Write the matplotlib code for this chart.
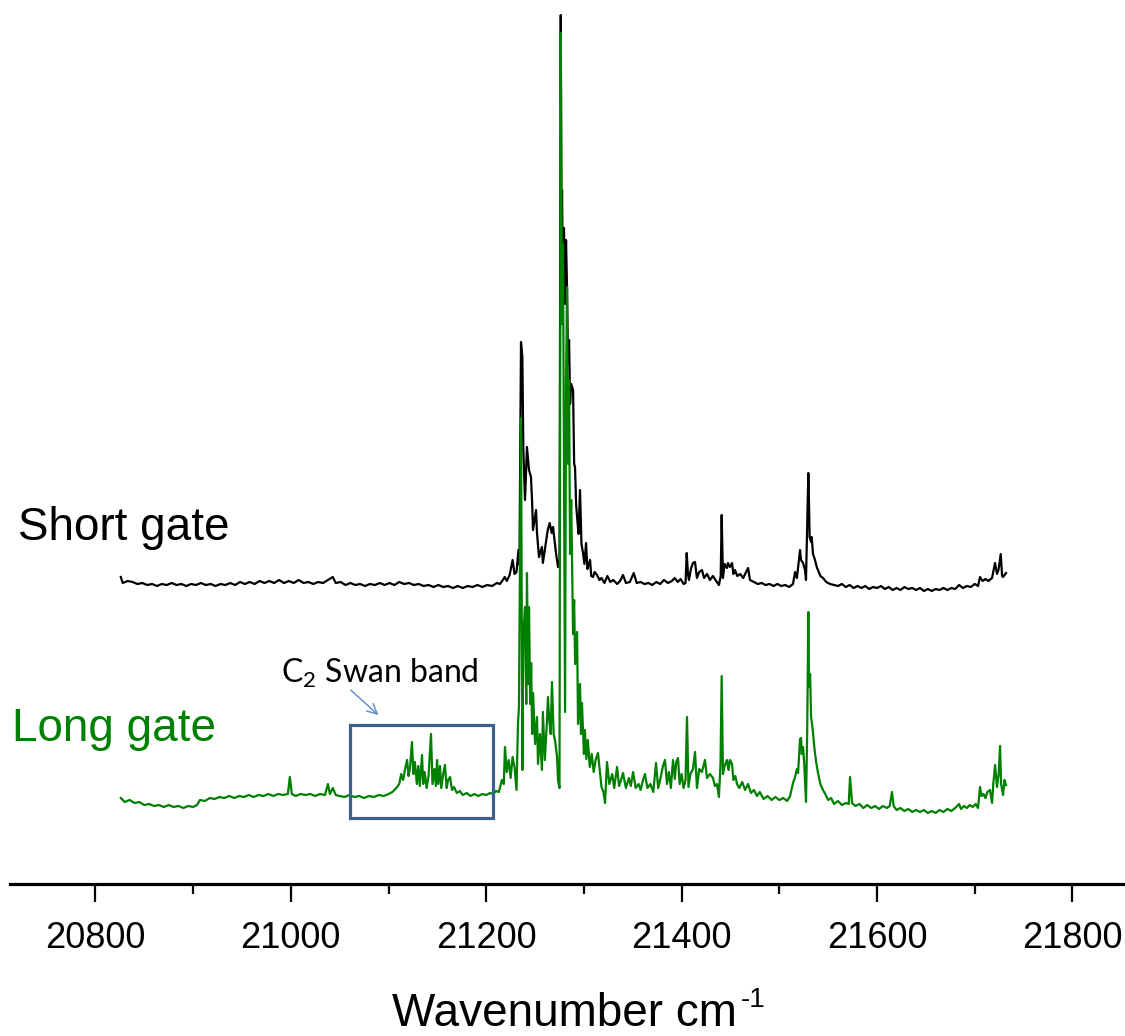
import numpy as np
import matplotlib
matplotlib.use("Agg")
import matplotlib.pyplot as plt
from matplotlib.patches import Rectangle
from matplotlib.ticker import MultipleLocator

plt.rcParams['font.family'] = ['Liberation Sans', 'DejaVu Sans']
plt.rcParams['mathtext.fontset'] = 'custom'
plt.rcParams['mathtext.rm'] = 'Lato'

# Short gate spectrum (a.u., stacked above the long gate trace)
short_wn = [
    20826, 20828, 20833, 20838, 20843, 20848, 20853, 20858, 20863, 20868,
    20873, 20878, 20883, 20888, 20893, 20898, 20903, 20908, 20913, 20918,
    20923, 20928, 20933, 20938, 20943, 20948, 20953, 20958, 20963, 20968,
    20973, 20978, 20983, 20988, 20993, 20998, 21003, 21008, 21013, 21018,
    21023, 21028, 21033, 21038, 21043, 21046, 21051, 21056, 21061, 21066,
    21071, 21076, 21081, 21086, 21091, 21096, 21101, 21106, 21111, 21116,
    21121, 21126, 21131, 21136, 21141, 21146, 21151, 21156, 21161, 21166,
    21171, 21176, 21181, 21186, 21191, 21196, 21201, 21206, 21211, 21214,
    21217, 21219, 21221, 21224, 21227, 21229, 21231, 21233, 21234, 21235.6,
    21237, 21238, 21239.7, 21241.7, 21243.8, 21245.8, 21246.9, 21247.9, 21251, 21252,
    21254, 21257, 21258, 21261, 21263, 21265, 21267, 21268.4, 21271.4, 21273.5,
    21275, 21276.3, 21277.0, 21277.6, 21278.6, 21279.6, 21280.7, 21281.7, 21282.7, 21283.8,
    21284.8, 21285.8, 21287, 21288.9, 21290, 21290.9, 21292, 21293, 21294.5, 21296,
    21297.5, 21299.1, 21300.5, 21302.2, 21303.5, 21304.2, 21306.3, 21307.5, 21309.3, 21311,
    21313.4, 21316, 21318, 21321, 21324, 21327, 21330, 21334, 21337, 21340,
    21343, 21347, 21351, 21354, 21358, 21362, 21366, 21370, 21374, 21378,
    21382, 21386, 21390, 21393, 21396, 21399, 21402, 21404, 21405.2, 21406.5,
    21407.5, 21409.5, 21411.6, 21413.7, 21415.7, 21418, 21420.8, 21423, 21426, 21429,
    21432, 21436, 21438.2, 21440, 21441.0, 21442.3, 21444, 21446.4, 21447.5, 21449.5,
    21451.6, 21453, 21454.6, 21457, 21460, 21463, 21466.9, 21468, 21470, 21474,
    21478, 21482, 21486, 21490, 21494, 21498, 21502, 21506, 21510, 21514,
    21516.1, 21518, 21521.2, 21522.2, 21524.3, 21526.3, 21527.3, 21529.7, 21530.4, 21531,
    21532.5, 21533.1, 21534.5, 21536.5, 21538.6, 21539.6, 21542, 21544.7, 21548, 21552,
    21556, 21560, 21564, 21568, 21572, 21576, 21580, 21584, 21588, 21592,
    21596, 21600, 21604, 21608, 21612, 21616, 21620, 21624, 21628, 21632,
    21636, 21640, 21644, 21648, 21652, 21656, 21660, 21664, 21668, 21672,
    21676, 21680, 21684, 21688, 21692, 21696, 21700, 21703.4, 21705.4, 21708,
    21711, 21714, 21717.7, 21720.8, 21722.8, 21724.5, 21726.6, 21728, 21729, 21732,
]
short_int = [
    87, 81, 83, 82, 80, 81, 79, 80, 78, 80,
    79, 81, 79, 80, 78, 80, 79, 81, 79, 80,
    78, 80, 79, 81, 79, 82, 80, 82, 80, 83,
    81, 83, 81, 84, 81, 83, 81, 84, 81, 82,
    80, 82, 81, 84, 87, 81, 82, 79, 81, 79,
    80, 78, 80, 79, 81, 79, 81, 79, 82, 80,
    81, 79, 80, 78, 79, 77, 79, 77, 78, 76,
    78, 76, 78, 77, 79, 77, 79, 78, 81, 80,
    84, 87, 83, 89, 104, 90, 92, 114, 99, 322,
    307, 214, 164, 217, 194, 187, 164, 134, 154, 131,
    107, 117, 101, 121, 134, 141, 131, 137, 111, 97,
    104, 649, 430, 474, 380, 436, 360, 424, 377, 300,
    324, 260, 280, 274, 200, 197, 160, 147, 130, 174,
    120, 111, 100, 121, 95, 97, 104, 88, 87, 92,
    89, 84, 86, 81, 88, 82, 84, 80, 83, 89,
    81, 82, 91, 81, 82, 80, 81, 79, 82, 80,
    84, 81, 83, 86, 82, 85, 80, 81, 111, 90,
    84, 95, 101, 102, 86, 92, 94, 86, 90, 84,
    88, 82, 79, 88, 149, 86, 100, 96, 101, 97,
    101, 90, 94, 88, 90, 86, 94, 96, 84, 82,
    80, 81, 79, 80, 78, 80, 78, 79, 77, 80,
    92, 86, 114, 104, 101, 94, 84, 191, 160, 127,
    122, 127, 110, 104, 96, 94, 88, 86, 82, 80,
    79, 78, 80, 77, 79, 76, 78, 76, 78, 75,
    77, 76, 78, 75, 77, 74, 76, 74, 77, 75,
    76, 74, 76, 73, 75, 73, 75, 74, 76, 74,
    76, 75, 79, 76, 78, 77, 80, 78, 87, 83,
    85, 83, 86, 101, 90, 95, 110, 88, 87, 91,
]

# Long gate spectrum (a.u.)
long_wn = [
    20826, 20830, 20835, 20840, 20845, 20850, 20855, 20860, 20865, 20870,
    20875, 20880, 20885, 20890, 20895, 20900, 20904, 20907, 20912, 20917,
    20922, 20927, 20932, 20937, 20942, 20947, 20952, 20957, 20962, 20967,
    20972, 20977, 20982, 20987, 20992, 20997, 20999, 21001, 21005, 21010,
    21015, 21020, 21025, 21030, 21035, 21038, 21040, 21043, 21046, 21050,
    21055, 21060, 21065, 21070, 21075, 21080, 21085, 21090, 21095, 21100,
    21104, 21108, 21111, 21113, 21115, 21117, 21119, 21120.5, 21122, 21124,
    21125.5, 21127, 21129, 21130.5, 21132, 21134.3, 21135.5, 21137, 21139, 21141,
    21143.5, 21145, 21147, 21148.5, 21149.7, 21151, 21152.7, 21154, 21156, 21157.8,
    21159.5, 21161, 21163, 21165, 21167, 21170, 21173, 21176, 21180, 21184,
    21188, 21192, 21196, 21200, 21204, 21207, 21210, 21213, 21216, 21218,
    21219.2, 21221, 21223, 21225, 21227, 21229, 21231, 21232.5, 21233.5, 21235.6,
    21236.3, 21237, 21238, 21239.7, 21241, 21241.7, 21243, 21243.8, 21245, 21246,
    21247, 21248, 21250, 21252, 21253, 21255, 21257, 21258, 21260, 21262,
    21263.2, 21264.5, 21266, 21267.3, 21269, 21270.4, 21272.5, 21273.5, 21275, 21276.3,
    21277.6, 21278.6, 21279.6, 21280.7, 21281.7, 21282.7, 21283.8, 21284.8, 21285.8, 21287,
    21288.9, 21290, 21291, 21293, 21294, 21296, 21297, 21298, 21300, 21301,
    21302.5, 21304, 21306, 21308, 21310, 21312, 21314.4, 21316.5, 21318, 21320,
    21321.6, 21323.6, 21326, 21329, 21331, 21333.9, 21336, 21338, 21340, 21343,
    21346, 21348, 21350.3, 21353, 21356, 21358, 21360.5, 21362.5, 21365, 21368,
    21371, 21373.8, 21376, 21378, 21380.9, 21383, 21385, 21387, 21389, 21391.2,
    21393, 21394.5, 21396.3, 21398, 21400, 21402, 21404, 21405.5, 21407, 21409,
    21411.6, 21413.7, 21415.7, 21418, 21420.8, 21423.9, 21426, 21429, 21432.1, 21434,
    21436.2, 21438.2, 21439.8, 21441.0, 21442.3, 21444, 21446.4, 21448, 21449.5, 21451.6,
    21453, 21455, 21456.7, 21459, 21462, 21465, 21468, 21471, 21474, 21477.2,
    21480, 21484, 21488, 21492, 21496, 21500, 21504, 21508, 21511, 21514,
    21516.1, 21518, 21519.2, 21521.2, 21522.2, 21523, 21524.3, 21525.5, 21527.3, 21528.5,
    21529.7, 21530.4, 21531.5, 21532.5, 21533.5, 21534.5, 21535.5, 21536.5, 21538, 21539.6,
    21542, 21544.7, 21547, 21550, 21553, 21556, 21560, 21564, 21568, 21571,
    21572.4, 21574.4, 21578, 21582, 21586, 21590, 21594, 21598, 21602, 21606,
    21610, 21613, 21615.3, 21617, 21620, 21624, 21628, 21632, 21636, 21640,
    21644, 21648, 21652, 21656, 21660, 21664, 21668, 21672, 21676, 21680,
    21684, 21686, 21689, 21692, 21695, 21698, 21701, 21703.4, 21705.4, 21707,
    21709, 21711, 21713, 21715.6, 21717.7, 21719, 21720.8, 21722.8, 21724.5, 21725.9,
    21727, 21729, 21730.5, 21732,
]
long_int = [
    86, 82, 84, 81, 82, 79, 80, 78, 79, 77,
    79, 77, 78, 76, 78, 77, 79, 84, 83, 86,
    85, 87, 86, 88, 86, 88, 87, 89, 87, 89,
    88, 90, 88, 90, 89, 90, 107, 90, 88, 90,
    89, 90, 88, 90, 89, 100, 90, 96, 89, 88,
    87, 89, 87, 88, 86, 88, 87, 89, 88, 90,
    92, 96, 100, 110, 104, 115, 124, 108, 116, 142,
    110, 122, 100, 118, 98, 129, 100, 112, 96, 108,
    150, 100, 115, 98, 124, 100, 118, 96, 110, 119,
    96, 104, 107, 94, 97, 91, 93, 89, 91, 88,
    90, 88, 90, 89, 91, 90, 93, 92, 104, 100,
    137, 112, 124, 106, 127, 117, 94, 160, 177, 466,
    300, 114, 250, 277, 180, 311, 200, 277, 180, 221,
    150, 191, 140, 167, 120, 150, 114, 172, 124, 160,
    187, 164, 150, 202, 150, 144, 127, 104, 96, 851,
    560, 640, 420, 172, 500, 597, 420, 504, 330, 384,
    250, 284, 220, 252, 160, 200, 150, 181, 130, 154,
    125, 144, 117, 130, 112, 124, 131, 111, 97, 92,
    81, 122, 100, 110, 96, 117, 98, 104, 111, 96,
    106, 98, 112, 96, 100, 94, 104, 110, 96, 100,
    92, 121, 96, 104, 118, 124, 100, 112, 96, 124,
    105, 122, 126, 100, 110, 96, 104, 167, 97, 110,
    115, 132, 96, 115, 112, 124, 106, 110, 106, 98,
    100, 87, 120, 208, 110, 118, 124, 114, 124, 120,
    104, 108, 100, 96, 102, 94, 100, 91, 94, 88,
    92, 85, 88, 84, 87, 84, 86, 83, 88, 101,
    107, 115, 111, 145, 146, 130, 137, 120, 82, 150,
    272, 197, 210, 167, 160, 151, 140, 131, 120, 111,
    100, 94, 90, 84, 86, 80, 83, 79, 81, 80,
    107, 81, 78, 80, 76, 79, 76, 78, 75, 78,
    76, 78, 92, 78, 74, 76, 73, 75, 72, 74,
    72, 74, 71, 73, 71, 74, 72, 75, 73, 76,
    80, 75, 78, 76, 79, 77, 80, 76, 97, 88,
    90, 86, 92, 94, 81, 100, 119, 97, 110, 138,
    100, 89, 104, 99,
]

short_offset = 220

# region of the C2 Swan band highlighted on the long gate trace
swan_x = (21061, 21207)
swan_y = (66, 159)

fig = plt.figure(figsize=(11.25, 10.36), dpi=100)
ax = fig.add_axes([10 / 1125, 152 / 1036, 1 - 10 / 1125, 884 / 1036])

ax.plot(short_wn, np.array(short_int) + short_offset, color='black', lw=1.6)
ax.plot(long_wn, long_int, color='#008000', lw=1.6)

ax.add_patch(Rectangle((swan_x[0], swan_y[0]), swan_x[1] - swan_x[0],
                       swan_y[1] - swan_y[0], fill=False,
                       edgecolor='#3D5F8E', lw=2.3, zorder=5))

ax.annotate('', xy=(21089.6, 169), xytext=(21061.3, 194),
            arrowprops=dict(arrowstyle='->', color='#5B8BCB', lw=1.0,
                            mutation_scale=18, shrinkA=0, shrinkB=0))
ax.text(20990, 201, r'C$_{2}$ Swan band', fontsize=23,
        family=['Lato', 'DejaVu Sans'], color='black', va='baseline')

ax.text(20720.7, 344, 'Short gate', fontsize=33, color='black', va='baseline')
ax.text(20714.6, 143, 'Long gate', fontsize=33, color='#008000', va='baseline')

ax.set_xlim(20712.6, 21853.8)
ax.set_ylim(0, 884)

for side in ('top', 'right', 'left'):
    ax.spines[side].set_visible(False)
ax.spines['bottom'].set_linewidth(2.3)
ax.set_yticks([])

ax.xaxis.set_major_locator(MultipleLocator(200))
ax.xaxis.set_minor_locator(MultipleLocator(100))
ax.tick_params(axis='x', which='major', direction='out', length=13, width=1.6,
               labelsize=26, pad=14)
ax.tick_params(axis='x', which='minor', direction='out', length=7, width=1.6)

# axis title with a plain hyphen in the raised exponent
fig.text(564 / 1125, 10 / 1036, 'Wavenumber cm', fontsize=33,
         ha='center', va='baseline')
fig.text(741 / 1125, 1 - 987 / 1036, '-1', fontsize=20, ha='left', va='top')

fig.savefig('out.png', dpi=100)
